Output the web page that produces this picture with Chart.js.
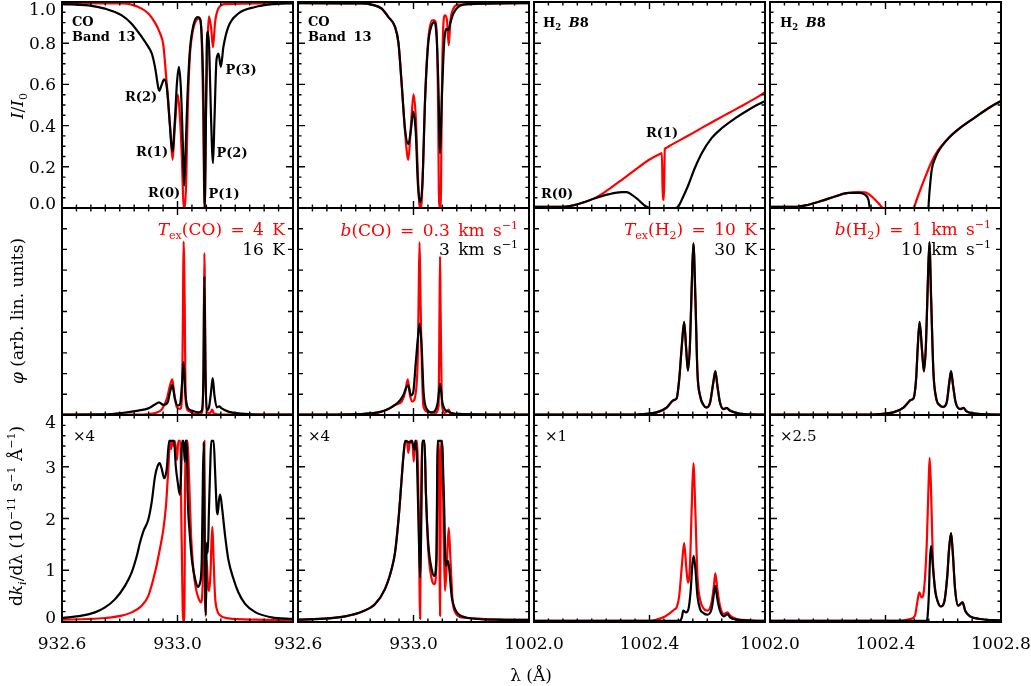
<!DOCTYPE html>
<html><head><meta charset="utf-8">
<script src="https://cdn.jsdelivr.net/npm/chart.js@4.4.1/dist/chart.umd.min.js"></script>
<style>
html,body{margin:0;padding:0;background:#fff}
#fig{position:relative;width:1031px;height:686px;overflow:hidden;font-family:'DejaVu Serif','Liberation Serif',serif;color:#000}
#fig canvas{position:absolute;left:0;top:0}
.tx{position:absolute;white-space:nowrap;line-height:1}
.ann{font-size:13px;font-weight:bold;word-spacing:3px}
.tick{font-size:17px}
.leg{font-size:17px;word-spacing:3px}
.mul{font-size:15px}
.ttl{font-size:17px}
.red{color:#ff0000}
sub,sup{line-height:0;font-size:65%}
</style></head><body><div id="fig"></div>
<script>
// ---------- axis ranges and tick labels ----------
const xRangeCO = [932.6, 933.4];
const xRangeH2 = [1002.0, 1002.8];
const yRangeI = [0, 1];
const yRangePhi = [0, 1.03];
const yRangeDk = [0, 4];
const xTicksCO = [932.6, 933.0];
const xTicksH2 = [1002.0, 1002.4];
const xTickLast = [1002.8];
const yTicksI = [0, 0.2, 0.4, 0.6, 0.8, 1.0];
const yTickLabelsI = ['0.0', '0.2', '0.4', '0.6', '0.8', '1.0'];
const yTicksDk = [0, 1, 2, 3, 4];
const yTickLabelsDk = ['0', '1', '2', '3', '4'];

// ---------- row 1 : I/I0 ----------
const COtex_I_16K = [[932.600,0.99],[932.691,0.984],[932.749,0.968],[932.807,0.935],[932.841,0.895],[932.876,0.831],[932.899,0.782],[932.911,0.75],[932.922,0.685],[932.934,0.58],[932.937,0.569],[932.945,0.597],[932.954,0.624],[932.963,0.585],[932.974,0.395],[932.982,0.274],[932.991,0.427],[932.998,0.605],[933.005,0.685],[933.012,0.573],[933.018,0.331],[933.023,0.108],[933.027,0.234],[933.034,0.524],[933.043,0.766],[933.055,0.887],[933.070,0.927],[933.078,0.919],[933.085,0.798],[933.090,0.524],[933.094,0.0],[933.098,0.363],[933.101,0.766],[933.105,0.855],[933.110,0.766],[933.116,0.444],[933.123,0.218],[933.128,0.427],[933.135,0.718],[933.142,0.75],[933.150,0.685],[933.159,0.782],[933.176,0.879],[933.211,0.944],[933.269,0.976],[933.326,0.989],[933.400,0.995]];
const COtex_I_4K = [[932.600,0.995],[932.807,0.993],[932.841,0.987],[932.876,0.968],[932.899,0.944],[932.922,0.9],[932.939,0.85],[932.951,0.79],[932.960,0.65],[932.968,0.52],[932.975,0.38],[932.983,0.234],[932.991,0.4],[933.001,0.55],[933.008,0.45],[933.015,0.25],[933.020,0.04],[933.025,0.0],[933.030,0.12],[933.035,0.45],[933.042,0.72],[933.052,0.85],[933.067,0.915],[933.076,0.92],[933.083,0.85],[933.088,0.55],[933.094,0.0],[933.099,0.5],[933.105,0.84],[933.109,0.93],[933.116,0.88],[933.123,0.78],[933.130,0.9],[933.142,0.97],[933.165,0.99],[933.400,0.995]];
const COb_I_3 = [[932.600,0.995],[932.821,0.993],[932.855,0.987],[932.890,0.968],[932.913,0.927],[932.936,0.879],[932.948,0.8],[932.959,0.605],[932.971,0.379],[932.982,0.31],[932.991,0.379],[932.999,0.468],[933.008,0.363],[933.015,0.121],[933.023,0.027],[933.031,0.121],[933.040,0.524],[933.051,0.798],[933.063,0.887],[933.072,0.903],[933.080,0.83],[933.086,0.605],[933.092,0.266],[933.098,0.524],[933.106,0.798],[933.115,0.87],[933.121,0.863],[933.127,0.895],[933.138,0.944],[933.155,0.976],[933.190,0.99],[933.400,0.995]];
const COb_I_03 = [[932.600,0.995],[932.821,0.993],[932.855,0.987],[932.890,0.968],[932.913,0.927],[932.936,0.879],[932.948,0.8],[932.959,0.6],[932.971,0.363],[932.982,0.234],[932.991,0.395],[933.000,0.552],[933.008,0.44],[933.015,0.169],[933.022,0.0],[933.026,0.0],[933.033,0.2],[933.040,0.524],[933.051,0.815],[933.065,0.911],[933.072,0.911],[933.080,0.863],[933.085,0.52],[933.089,0.0],[933.094,0.0],[933.098,0.524],[933.103,0.879],[933.109,0.935],[933.116,0.911],[933.122,0.79],[933.128,0.911],[933.138,0.968],[933.155,0.987],[933.400,0.995]];
const H2tex_I_10K = [[1002.0,0.005],[1002.073,0.005],[1002.119,0.008],[1002.165,0.024],[1002.211,0.048],[1002.257,0.089],[1002.304,0.137],[1002.350,0.185],[1002.396,0.232],[1002.436,0.262],[1002.443,0.266],[1002.446,0.04],[1002.450,0.04],[1002.453,0.286],[1002.458,0.292],[1002.470,0.302],[1002.488,0.316],[1002.535,0.352],[1002.581,0.389],[1002.627,0.425],[1002.673,0.46],[1002.719,0.495],[1002.766,0.532],[1002.8,0.562]];
const H2tex_I_30K = [[1002.0,0.005],[1002.073,0.005],[1002.119,0.008],[1002.165,0.024],[1002.211,0.047],[1002.257,0.066],[1002.304,0.077],[1002.321,0.077],[1002.338,0.065],[1002.361,0.04],[1002.384,0.011],[1002.402,0.0],[1002.488,0.0],[1002.500,0.008],[1002.517,0.056],[1002.535,0.113],[1002.557,0.194],[1002.581,0.266],[1002.615,0.339],[1002.650,0.387],[1002.696,0.435],[1002.742,0.476],[1002.8,0.52]];
const H2b_I_1 = [[1002.0,0.005],[1002.087,0.005],[1002.133,0.016],[1002.179,0.035],[1002.225,0.056],[1002.271,0.073],[1002.306,0.077],[1002.329,0.076],[1002.352,0.056],[1002.375,0.024],[1002.393,0.0],[1002.497,0.0],[1002.508,0.04],[1002.525,0.105],[1002.543,0.169],[1002.560,0.226],[1002.583,0.282],[1002.618,0.339],[1002.664,0.395],[1002.710,0.44],[1002.756,0.484],[1002.8,0.52]];
const H2b_I_10 = [[1002.0,0.005],[1002.087,0.005],[1002.133,0.016],[1002.179,0.035],[1002.225,0.056],[1002.271,0.073],[1002.306,0.073],[1002.329,0.065],[1002.341,0.04],[1002.346,0.0],[1002.548,0.0],[1002.552,0.073],[1002.560,0.185],[1002.572,0.242],[1002.583,0.275],[1002.618,0.339],[1002.664,0.395],[1002.710,0.44],[1002.756,0.484],[1002.8,0.52]];

// ---------- row 2 : phi ----------
const COtex_phi_16K = [[932.600,0.002],[932.749,0.003],[932.807,0.01],[932.864,0.022],[932.899,0.033],[932.922,0.052],[932.936,0.063],[932.951,0.05],[932.966,0.063],[932.974,0.113],[932.982,0.15],[932.991,0.08],[933.001,0.047],[933.009,0.055],[933.016,0.163],[933.021,0.263],[933.027,0.113],[933.035,0.038],[933.049,0.022],[933.072,0.013],[933.084,0.022],[933.090,0.213],[933.093,0.69],[933.097,0.213],[933.101,0.022],[933.109,0.038],[933.116,0.113],[933.122,0.183],[933.128,0.097],[933.136,0.038],[933.144,0.043],[933.153,0.033],[933.176,0.017],[933.222,0.007],[933.292,0.002],[933.400,0.002]];
const COtex_phi_4K = [[932.600,0.002],[932.864,0.002],[932.899,0.005],[932.922,0.01],[932.945,0.027],[932.963,0.08],[932.974,0.147],[932.982,0.177],[932.988,0.113],[932.998,0.038],[933.010,0.03],[933.016,0.113],[933.019,0.547],[933.021,0.863],[933.025,0.547],[933.028,0.08],[933.037,0.022],[933.061,0.005],[933.084,0.01],[933.090,0.213],[933.093,0.805],[933.097,0.213],[933.101,0.013],[933.113,0.01],[933.120,0.027],[933.126,0.007],[933.153,0.002],[933.400,0.002]];
const COb_phi_3 = [[932.600,0.002],[932.821,0.005],[932.878,0.013],[932.913,0.03],[932.936,0.05],[932.953,0.072],[932.965,0.1],[932.974,0.133],[932.982,0.147],[932.991,0.097],[932.999,0.113],[933.008,0.263],[933.015,0.38],[933.021,0.455],[933.028,0.347],[933.035,0.113],[933.046,0.03],[933.063,0.013],[933.075,0.022],[933.084,0.063],[933.092,0.155],[933.100,0.063],[933.109,0.027],[933.121,0.017],[933.132,0.01],[933.167,0.005],[933.400,0.002]];
const COb_phi_03 = [[932.600,0.002],[932.821,0.005],[932.878,0.013],[932.913,0.03],[932.936,0.05],[932.959,0.067],[932.971,0.113],[932.980,0.177],[932.988,0.097],[932.996,0.067],[933.008,0.113],[933.015,0.297],[933.018,0.6],[933.021,0.86],[933.024,0.6],[933.028,0.297],[933.034,0.047],[933.046,0.017],[933.075,0.01],[933.087,0.047],[933.090,0.5],[933.092,0.79],[933.094,0.5],[933.099,0.047],[933.109,0.01],[933.122,0.027],[933.128,0.007],[933.167,0.003],[933.400,0.002]];
const H2tex_phi_30K = [[1002.0,0.002],[1002.333,0.002],[1002.379,0.005],[1002.425,0.013],[1002.460,0.038],[1002.477,0.067],[1002.485,0.075],[1002.494,0.083],[1002.503,0.18],[1002.512,0.347],[1002.520,0.463],[1002.527,0.33],[1002.533,0.222],[1002.540,0.347],[1002.546,0.63],[1002.552,0.855],[1002.559,0.58],[1002.566,0.213],[1002.575,0.097],[1002.587,0.05],[1002.598,0.038],[1002.610,0.063],[1002.621,0.163],[1002.628,0.218],[1002.635,0.147],[1002.644,0.063],[1002.656,0.03],[1002.667,0.035],[1002.679,0.022],[1002.702,0.01],[1002.748,0.003],[1002.8,0.002]];
const H2tex_phi_10K = [[1002.0,0.002],[1002.333,0.002],[1002.379,0.005],[1002.425,0.013],[1002.460,0.037],[1002.477,0.066],[1002.485,0.074],[1002.494,0.082],[1002.503,0.178],[1002.512,0.345],[1002.520,0.461],[1002.527,0.328],[1002.533,0.22],[1002.540,0.345],[1002.546,0.628],[1002.552,0.853],[1002.559,0.578],[1002.566,0.211],[1002.575,0.096],[1002.587,0.049],[1002.598,0.037],[1002.610,0.062],[1002.621,0.161],[1002.628,0.216],[1002.635,0.145],[1002.644,0.062],[1002.656,0.029],[1002.667,0.034],[1002.679,0.021],[1002.702,0.01],[1002.748,0.003],[1002.8,0.002]];
const H2b_phi_10 = [[1002.0,0.002],[1002.323,0.002],[1002.381,0.005],[1002.427,0.013],[1002.462,0.037],[1002.479,0.063],[1002.487,0.075],[1002.497,0.083],[1002.506,0.18],[1002.512,0.347],[1002.518,0.463],[1002.527,0.313],[1002.533,0.218],[1002.540,0.347],[1002.546,0.63],[1002.552,0.86],[1002.558,0.58],[1002.566,0.213],[1002.575,0.088],[1002.589,0.047],[1002.600,0.04],[1002.612,0.063],[1002.621,0.163],[1002.627,0.218],[1002.634,0.147],[1002.643,0.063],[1002.658,0.03],[1002.670,0.035],[1002.681,0.018],[1002.704,0.008],[1002.751,0.003],[1002.8,0.002]];
const H2b_phi_1 = [[1002.0,0.002],[1002.323,0.002],[1002.381,0.005],[1002.427,0.013],[1002.462,0.036],[1002.479,0.062],[1002.487,0.074],[1002.497,0.082],[1002.506,0.178],[1002.512,0.345],[1002.518,0.461],[1002.527,0.311],[1002.533,0.216],[1002.540,0.345],[1002.546,0.628],[1002.552,0.858],[1002.558,0.578],[1002.566,0.211],[1002.575,0.087],[1002.589,0.046],[1002.600,0.039],[1002.612,0.062],[1002.621,0.161],[1002.627,0.216],[1002.634,0.145],[1002.643,0.062],[1002.658,0.029],[1002.670,0.034],[1002.681,0.018],[1002.704,0.008],[1002.751,0.003],[1002.8,0.002]];

// ---------- row 3 : dk/dlambda ----------
const COtex_dk_16K = [[932.600,0.077],[932.668,0.122],[932.714,0.186],[932.749,0.282],[932.784,0.442],[932.818,0.699],[932.841,0.955],[932.859,1.276],[932.870,1.53],[932.882,1.756],[932.899,1.98],[932.911,2.33],[932.922,2.81],[932.931,3.01],[932.938,3.07],[932.945,2.97],[932.954,2.78],[932.963,2.97],[932.971,3.5],[932.988,3.5],[932.994,3.01],[933.001,2.69],[933.008,2.46],[933.012,2.81],[933.016,3.5],[933.021,3.5],[933.025,3.1],[933.028,3.5],[933.032,3.5],[933.035,2.5],[933.043,1.66],[933.051,1.15],[933.061,0.83],[933.070,0.68],[933.078,0.76],[933.084,1.2],[933.088,2.81],[933.091,3.46],[933.094,1.53],[933.098,0.12],[933.101,1.53],[933.105,1.34],[933.109,2.17],[933.114,3.13],[933.117,3.5],[933.125,3.5],[933.130,2.94],[933.136,2.17],[933.139,2.08],[933.144,2.37],[933.148,2.46],[933.155,2.17],[933.165,1.66],[933.176,1.21],[933.194,0.83],[933.211,0.57],[933.234,0.35],[933.269,0.19],[933.326,0.09],[933.400,0.06]];
const COtex_dk_4K = [[932.600,0.045],[932.691,0.058],[932.749,0.077],[932.807,0.122],[932.841,0.186],[932.876,0.314],[932.899,0.506],[932.922,0.955],[932.939,1.41],[932.951,1.79],[932.960,2.24],[932.968,2.94],[932.974,3.5],[932.978,3.34],[932.982,3.5],[932.987,3.4],[932.991,3.5],[932.998,3.13],[933.003,3.5],[933.010,3.5],[933.013,2.17],[933.018,0.25],[933.020,0.0],[933.024,0.25],[933.027,3.5],[933.035,3.5],[933.040,2.81],[933.047,1.66],[933.055,1.02],[933.063,0.67],[933.072,0.47],[933.081,0.38],[933.087,0.7],[933.091,2.5],[933.093,3.5],[933.095,1.0],[933.098,0.17],[933.101,1.2],[933.105,0.75],[933.109,0.6],[933.114,0.9],[933.118,1.6],[933.121,1.84],[933.125,1.21],[933.130,0.5],[933.136,0.25],[933.147,0.13],[933.176,0.07],[933.269,0.045],[933.400,0.04]];
const COb_dk_3 = [[932.600,0.045],[932.705,0.07],[932.763,0.109],[932.821,0.199],[932.867,0.346],[932.901,0.635],[932.924,1.02],[932.936,1.34],[932.948,1.98],[932.957,2.62],[932.965,3.2],[932.971,3.5],[932.988,3.47],[932.994,3.5],[933.003,3.33],[933.008,3.5],[933.012,3.13],[933.019,1.53],[933.023,0.86],[933.026,1.53],[933.031,3.5],[933.038,3.5],[933.043,2.49],[933.051,1.53],[933.063,1.02],[933.072,0.89],[933.079,1.21],[933.084,3.5],[933.098,3.5],[933.105,2.49],[933.112,1.08],[933.119,1.18],[933.124,1.02],[933.132,0.5],[933.144,0.25],[933.155,0.154],[933.190,0.077],[933.282,0.045],[933.400,0.04]];
const COb_dk_03 = [[932.600,0.045],[932.705,0.07],[932.763,0.109],[932.821,0.199],[932.867,0.346],[932.901,0.635],[932.924,1.02],[932.936,1.34],[932.948,1.98],[932.957,2.62],[932.965,3.2],[932.971,3.47],[932.977,3.5],[932.982,3.27],[932.988,3.5],[932.996,3.5],[933.001,3.1],[933.005,3.5],[933.012,3.5],[933.018,2.17],[933.023,0.06],[933.026,2.17],[933.031,3.5],[933.038,3.5],[933.043,2.49],[933.051,1.4],[933.063,0.83],[933.072,0.73],[933.080,1.21],[933.084,3.5],[933.088,3.27],[933.092,0.12],[933.095,3.27],[933.099,3.5],[933.105,1.53],[933.109,0.6],[933.116,1.21],[933.122,1.82],[933.128,1.21],[933.135,0.44],[933.144,0.19],[933.167,0.09],[933.400,0.04]];
const H2tex_dk_10K = [[1002.0,0.02],[1002.402,0.02],[1002.425,0.045],[1002.448,0.09],[1002.471,0.173],[1002.485,0.237],[1002.494,0.282],[1002.503,0.506],[1002.512,1.08],[1002.520,1.53],[1002.527,1.08],[1002.533,0.76],[1002.540,1.08],[1002.546,2.17],[1002.552,3.07],[1002.559,2.11],[1002.566,0.89],[1002.575,0.44],[1002.587,0.263],[1002.600,0.218],[1002.615,0.378],[1002.623,0.699],[1002.628,0.94],[1002.635,0.635],[1002.644,0.314],[1002.658,0.154],[1002.670,0.186],[1002.679,0.122],[1002.702,0.058],[1002.748,0.032],[1002.8,0.02]];
const H2tex_dk_30K = [[1002.0,0.02],[1002.494,0.02],[1002.506,0.026],[1002.512,0.09],[1002.517,0.218],[1002.527,0.186],[1002.535,0.25],[1002.543,0.635],[1002.548,1.08],[1002.553,1.28],[1002.559,1.02],[1002.566,0.506],[1002.575,0.25],[1002.587,0.173],[1002.600,0.141],[1002.615,0.25],[1002.623,0.538],[1002.628,0.699],[1002.635,0.442],[1002.644,0.218],[1002.658,0.109],[1002.670,0.154],[1002.679,0.09],[1002.702,0.045],[1002.748,0.026],[1002.8,0.02]];
const H2b_dk_1 = [[1002.0,0.02],[1002.439,0.02],[1002.485,0.058],[1002.502,0.122],[1002.510,0.378],[1002.517,0.571],[1002.525,0.474],[1002.533,0.603],[1002.543,1.53],[1002.550,2.81],[1002.553,3.17],[1002.558,2.49],[1002.564,1.21],[1002.572,0.635],[1002.580,0.41],[1002.591,0.3],[1002.603,0.378],[1002.614,0.891],[1002.620,1.4],[1002.627,1.72],[1002.633,1.34],[1002.641,0.635],[1002.652,0.314],[1002.667,0.378],[1002.676,0.218],[1002.693,0.109],[1002.727,0.058],[1002.8,0.032]];
const H2b_dk_10 = [[1002.0,0.02],[1002.543,0.02],[1002.546,0.122],[1002.550,0.506],[1002.554,1.21],[1002.558,1.47],[1002.564,1.08],[1002.572,0.603],[1002.580,0.41],[1002.591,0.3],[1002.603,0.378],[1002.614,0.891],[1002.620,1.4],[1002.627,1.72],[1002.633,1.34],[1002.641,0.635],[1002.652,0.314],[1002.667,0.378],[1002.676,0.218],[1002.693,0.109],[1002.727,0.058],[1002.8,0.032]];

// ---------- layout ----------
const FIG_W = 1031, FIG_H = 686;
const panelLeft = [62, 298, 534, 770];
const panelWidth = 231;
const rowTop = [2, 208, 415];
const rowHeight = [206, 207, 207];

const fig = document.getElementById('fig');
function addText(html, x, y, cls, ax, rot) {
  const d = document.createElement('div');
  d.className = 'tx ' + (cls || '');
  d.innerHTML = html;
  d.style.left = x + 'px';
  d.style.top = y + 'px';
  const tx = ax === 'l' ? '0' : ax === 'r' ? '-100%' : '-50%';
  d.style.transform = 'translate(' + tx + ',-50%)' + (rot ? ' rotate(-90deg)' : '');
  fig.appendChild(d);
  return d;
}

function isMult(v, step) { const q = v / step; return Math.abs(q - Math.round(q)) < 1e-6; }

const framePlugin = {
  id: 'frame',
  afterDatasetsDraw(chart, args, o) {
    const ctx = chart.ctx, a = chart.chartArea;
    const xs = chart.scales.x, ys = chart.scales.y;
    ctx.save();
    ctx.strokeStyle = '#000';
    ctx.lineWidth = 1.4;
    ctx.beginPath();
    let n = Math.round((xs.max - xs.min) / o.xMinor);
    for (let i = 0; i <= n; i++) {
      const v = xs.min + i * o.xMinor;
      const p = xs.getPixelForValue(v);
      const L = isMult(v - xs.min, o.xMajor) ? o.majLen : o.minLen;
      ctx.moveTo(p, a.bottom); ctx.lineTo(p, a.bottom - L);
      ctx.moveTo(p, a.top); ctx.lineTo(p, a.top + L);
    }
    n = Math.round((ys.max - ys.min) / o.yMinor);
    for (let i = 0; i <= n; i++) {
      const v = ys.min + i * o.yMinor;
      const p = ys.getPixelForValue(v);
      const L = isMult(v - ys.min, o.yMajor) ? o.yMajLen : o.minLen;
      ctx.moveTo(a.left, p); ctx.lineTo(a.left + L, p);
      ctx.moveTo(a.right, p); ctx.lineTo(a.right - L, p);
    }
    ctx.stroke();
    ctx.lineWidth = 2;
    ctx.strokeRect(a.left, a.top, a.right - a.left, a.bottom - a.top);
    ctx.restore();
  }
};

const toXY = arr => arr.map(p => ({x: p[0], y: p[1]}));

function makePanel(r, c, black, red, xr, yr, tickCfg) {
  const cv = document.createElement('canvas');
  cv.width = FIG_W; cv.height = FIG_H;
  fig.appendChild(cv);
  const L = panelLeft[c], T = rowTop[r], W = panelWidth, H = rowHeight[r];
  const line = {pointRadius: 0, borderWidth: 2.2, fill: false, cubicInterpolationMode: 'monotone', borderJoinStyle: 'round'};
  return new Chart(cv, {
    type: 'line',
    data: { datasets: [
      Object.assign({data: toXY(black), borderColor: '#000000', order: 0}, line),
      Object.assign({data: toXY(red), borderColor: '#ff0000', order: 1}, line)
    ]},
    options: {
      responsive: false, animation: false, events: [],
      layout: {padding: {left: L, top: T, right: FIG_W - L - W, bottom: FIG_H - T - H}},
      plugins: {legend: {display: false}, tooltip: {enabled: false}, frame: tickCfg},
      scales: {
        x: {type: 'linear', min: xr[0], max: xr[1], display: false},
        y: {type: 'linear', min: yr[0], max: yr[1], display: false}
      }
    },
    plugins: [framePlugin]
  });
}

const xTickCfg = {xMinor: 0.05, xMajor: 0.4, majLen: 7, minLen: 3.5};
const rowTicks = [
  Object.assign({yMinor: 0.05, yMajor: 0.2, yMajLen: 7}, xTickCfg),
  Object.assign({yMinor: 0.103, yMajor: 0.103, yMajLen: 5}, xTickCfg),
  Object.assign({yMinor: 0.2, yMajor: 1, yMajLen: 7}, xTickCfg)
];

const panels = [
  [COtex_I_16K, COtex_I_4K, COb_I_3, COb_I_03, H2tex_I_30K, H2tex_I_10K, H2b_I_10, H2b_I_1],
  [COtex_phi_16K, COtex_phi_4K, COb_phi_3, COb_phi_03, H2tex_phi_30K, H2tex_phi_10K, H2b_phi_10, H2b_phi_1],
  [COtex_dk_16K, COtex_dk_4K, COb_dk_3, COb_dk_03, H2tex_dk_30K, H2tex_dk_10K, H2b_dk_10, H2b_dk_1]
];
const yRanges = [yRangeI, yRangePhi, yRangeDk];
const charts = [];
for (let r = 0; r < 3; r++) {
  charts.push([]);
  for (let c = 0; c < 4; c++) {
    const xr = c < 2 ? xRangeCO : xRangeH2;
    charts[r].push(makePanel(r, c, panels[r][2 * c], panels[r][2 * c + 1], xr, yRanges[r], rowTicks[r]));
  }
}

// ---------- tick labels (positioned through the chart scales) ----------
function yLabels(chart, vals, labels) {
  const a = chart.chartArea, ys = chart.scales.y;
  vals.forEach((v, i) => {
    let p = ys.getPixelForValue(v);
    p = Math.min(Math.max(p, a.top + 7), a.bottom - 5);
    addText(labels[i], a.left - 6, p, 'tick', 'r');
  });
}
yLabels(charts[0][0], yTicksI, yTickLabelsI);
yLabels(charts[2][0], yTicksDk, yTickLabelsDk);
function xLabels(chart, vals) {
  const a = chart.chartArea, xs = chart.scales.x;
  vals.forEach(v => addText(v.toFixed(1), xs.getPixelForValue(v), a.bottom + 21, 'tick', 'c'));
}
xLabels(charts[2][0], xTicksCO);
xLabels(charts[2][1], xTicksCO);
xLabels(charts[2][2], xTicksH2);
xLabels(charts[2][3], xTicksH2.concat(xTickLast));

// ---------- annotations ----------
addText('CO', 72, 21, 'ann', 'l');
addText('Band 13', 72, 36, 'ann', 'l');
addText('CO', 308, 21, 'ann', 'l');
addText('Band 13', 308, 36, 'ann', 'l');
addText('H<sub>2</sub> <i>B</i>8', 543, 22, 'ann', 'l');
addText('H<sub>2</sub> <i>B</i>8', 780, 22, 'ann', 'l');
addText('R(2)', 141, 96, 'ann', 'c');
addText('R(1)', 152, 151, 'ann', 'c');
addText('R(0)', 164, 192, 'ann', 'c');
addText('P(1)', 224, 193, 'ann', 'c');
addText('P(2)', 232, 152, 'ann', 'c');
addText('P(3)', 241, 69, 'ann', 'c');
addText('R(1)', 662, 132, 'ann', 'c');
addText('R(0)', 557, 193, 'ann', 'c');

addText('<i>T</i><sub>ex</sub>(CO) = 4 K', 285, 229, 'leg red', 'r');
addText('16 K', 285, 249, 'leg', 'r');
addText('<i>b</i>(CO) = 0.3 km s<sup>−1</sup>', 518, 230, 'leg red', 'r');
addText('3 km s<sup>−1</sup>', 518, 249, 'leg', 'r');
addText('<i>T</i><sub>ex</sub>(H<sub>2</sub>) = 10 K', 757, 229, 'leg red', 'r');
addText('30 K', 757, 249, 'leg', 'r');
addText('<i>b</i>(H<sub>2</sub>) = 1 km s<sup>−1</sup>', 991, 229, 'leg red', 'r');
addText('10 km s<sup>−1</sup>', 991, 249, 'leg', 'r');

addText('×4', 73, 436, 'mul', 'l');
addText('×4', 308, 436, 'mul', 'l');
addText('×1', 545, 436, 'mul', 'l');
addText('×2.5', 780, 436, 'mul', 'l');

addText('λ (Å)', 531, 675, 'ttl', 'c');
addText('<i>I</i>/<i>I</i><sub>0</sub>', 17, 106, 'ttl', 'c', true);
addText('<i>φ</i> (arb. lin. units)', 17, 311, 'ttl', 'c', true);
addText('d<i>k</i><sub><i>i</i></sub>/dλ (10<sup>−11</sup> s<sup>−1</sup> Å<sup>−1</sup>)', 16, 516, 'ttl', 'c', true);
</script>
</body></html>
